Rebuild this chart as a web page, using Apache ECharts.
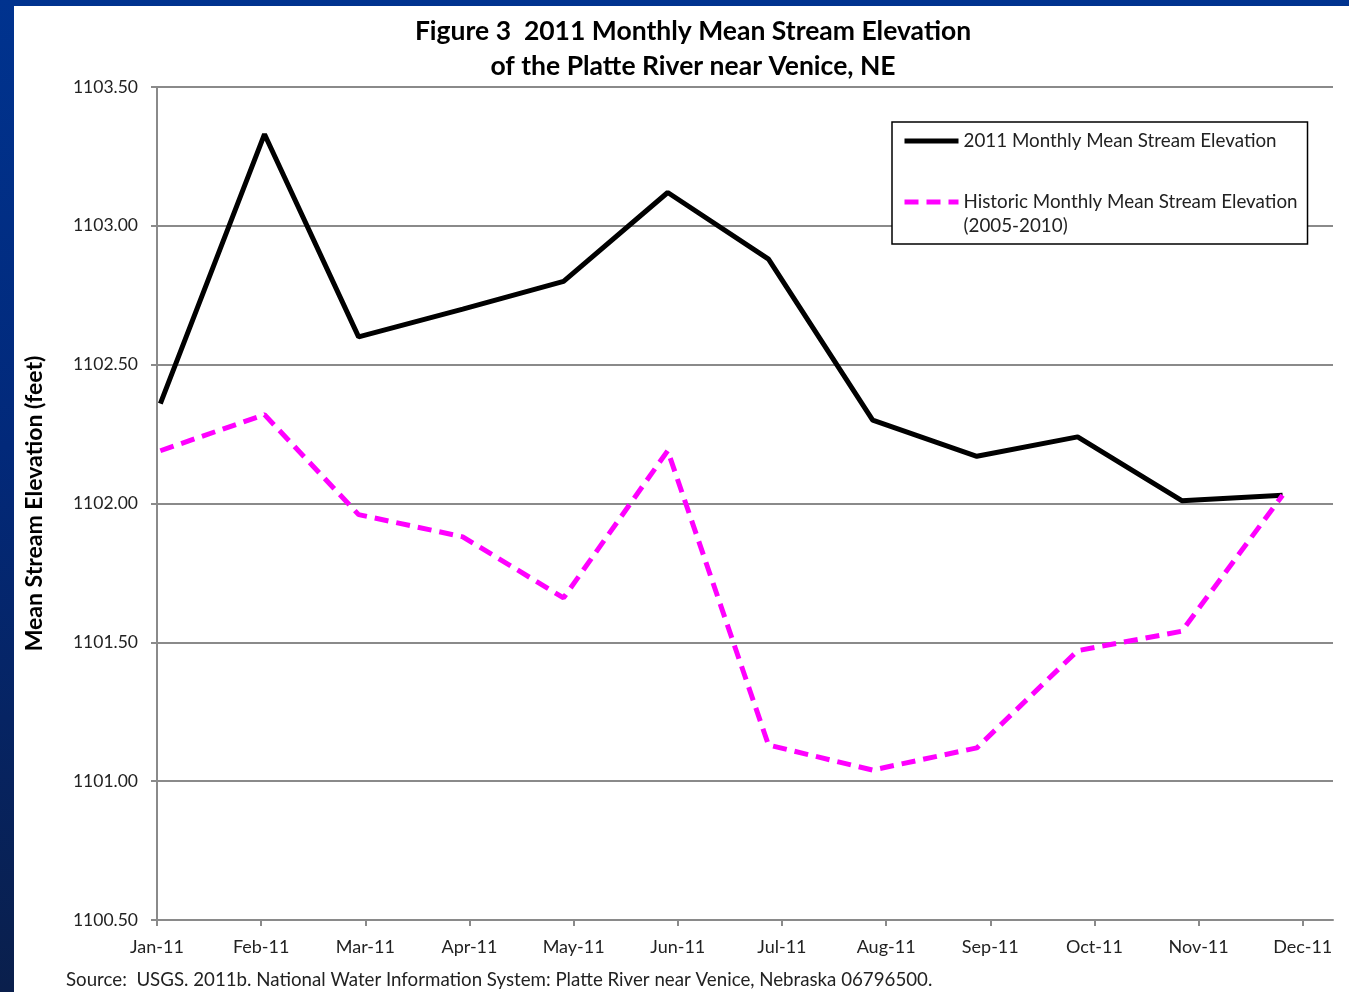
<!DOCTYPE html>
<html>
<head>
<meta charset="utf-8">
<script src="https://cdn.jsdelivr.net/npm/echarts@6/dist/echarts.min.js"></script>
<style>
  html, body { margin: 0; padding: 0; width: 1349px; height: 992px; overflow: hidden; }
  body { background: linear-gradient(to bottom, #00338f 0%, #02297a 45%, #0a1f4c 100%); }
  #chart { position: absolute; left: 14px; top: 6px; width: 1335px; height: 986px; background: #fff; }
</style>
</head>
<body>
<div id="chart"></div>
<script>
var monthLabels = ['Jan-11', 'Feb-11', 'Mar-11', 'Apr-11', 'May-11', 'Jun-11',
  'Jul-11', 'Aug-11', 'Sep-11', 'Oct-11', 'Nov-11', 'Dec-11']
var dates = ['2011-01-01', '2011-02-01', '2011-03-01', '2011-04-01', '2011-05-01', '2011-06-01',
  '2011-07-01', '2011-08-01', '2011-09-01', '2011-10-01', '2011-11-01', '2011-12-01']
var elev2011 = [1102.36, 1103.33, 1102.60, 1102.70, 1102.80, 1103.12,
  1102.88, 1102.30, 1102.17, 1102.24, 1102.01, 1102.03]
var elevHistoric = [1102.19, 1102.32, 1101.96, 1101.88, 1101.66, 1102.19,
  1101.13, 1101.04, 1101.12, 1101.47, 1101.54, 1102.03]
var seriesNames = ['2011 Monthly Mean Stream Elevation',
  'Historic Monthly Mean Stream Elevation (2005-2010)']

var FONT = 'Lato'
var DAY = 86400000
var tickStep = 31 // date axis major unit, days

// day number counted from 31 Dec 2010
function dayNum (s) {
  return (Date.parse(s + 'T00:00:00Z') - Date.UTC(2010, 11, 31)) / DAY
}
function pairs (vals) {
  return vals.map(function (v, i) { return [dayNum(dates[i]), v] })
}
var tickValues = monthLabels.map(function (m, i) { return i * tickStep })

var chart = echarts.init(document.getElementById('chart'))
chart.setOption({
  animation: false,
  title: {
    text: 'Figure 3  2011 Monthly Mean Stream Elevation\nof the Platte River near Venice, NE',
    left: 674,
    top: 3,
    textAlign: 'center',
    textStyle: { fontFamily: FONT, fontSize: 26.5, fontWeight: 'bold', color: '#000', lineHeight: 35 }
  },
  grid: { left: 143, top: 81, right: 16, bottom: 72, outerBoundsMode: 'none' },
  legend: {
    orient: 'vertical',
    left: 878,
    top: 116,
    padding: [7, 10, 6, 10],
    itemGap: 13,
    itemWidth: 54,
    itemHeight: 14,
    backgroundColor: '#fff',
    borderColor: '#000',
    borderWidth: 1.5,
    itemStyle: { opacity: 0 },
    lineStyle: { width: 5 },
    textStyle: { fontFamily: FONT, fontSize: 18.8, color: '#222', lineHeight: 24 },
    data: seriesNames,
    // second entry: blank first line keeps "Historic..." level with its dashes
    formatter: function (name) {
      return name === seriesNames[1] ? '\n' + name.replace(' (', '\n(') : name
    }
  },
  xAxis: {
    type: 'value',
    min: 0,
    max: 350,
    interval: tickStep,
    axisLine: { lineStyle: { color: '#8a8a8a', width: 2 } },
    axisTick: { show: true, length: 6, customValues: tickValues, lineStyle: { color: '#8a8a8a', width: 2 } },
    splitLine: { show: false },
    axisLabel: {
      customValues: tickValues,
      margin: 18,
      fontFamily: FONT, fontSize: 18, color: '#222',
      formatter: function (v) { return monthLabels[Math.round(v / tickStep)] || '' }
    }
  },
  yAxis: {
    type: 'value',
    min: 1100.5,
    max: 1103.5,
    interval: 0.5,
    name: 'Mean Stream Elevation (feet)',
    nameLocation: 'middle',
    nameRotate: 90,
    nameGap: 111,
    nameTextStyle: { fontFamily: FONT, fontSize: 23, fontWeight: 'bold', color: '#000' },
    axisLine: { show: true, lineStyle: { color: '#8a8a8a', width: 2 } },
    axisTick: { show: true, length: 6, lineStyle: { color: '#8a8a8a', width: 2 } },
    splitLine: { lineStyle: { color: '#8a8a8a', width: 2 } },
    axisLabel: {
      margin: 19,
      fontFamily: FONT, fontSize: 17.5, color: '#222',
      formatter: function (v) { return v.toFixed(2) }
    }
  },
  graphic: [{
    type: 'text',
    left: 52,
    top: 964,
    style: {
      text: 'Source:  USGS. 2011b. National Water Information System: Platte River near Venice, Nebraska 06796500.',
      font: '18.7px Lato',
      fill: '#222'
    }
  }],
  series: [
    {
      name: seriesNames[0],
      type: 'line',
      data: pairs(elev2011),
      symbol: 'none',
      lineStyle: { color: '#000', width: 5 },
      itemStyle: { color: '#000' }
    },
    {
      name: seriesNames[1],
      type: 'line',
      data: pairs(elevHistoric),
      symbol: 'none',
      lineStyle: { color: '#f0f', width: 5, type: [14, 8] },
      itemStyle: { color: '#f0f' }
    }
  ]
})
</script>
</body>
</html>
